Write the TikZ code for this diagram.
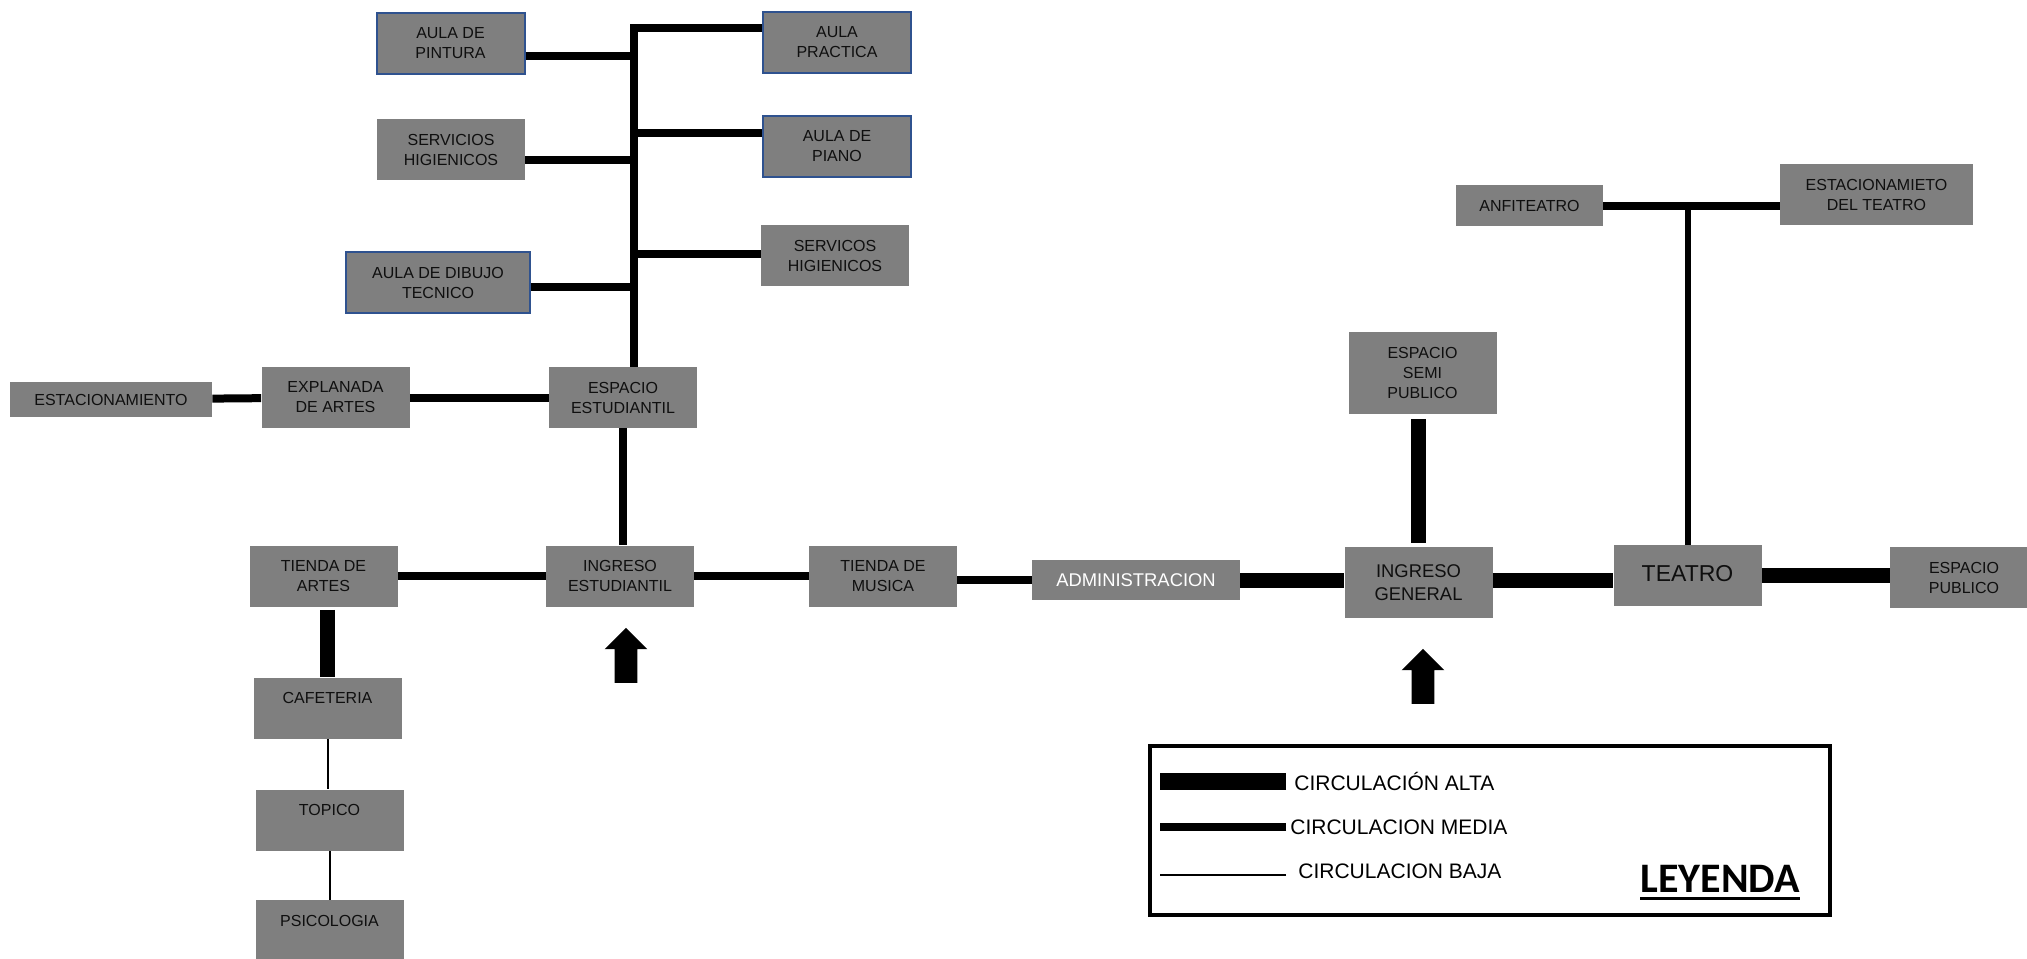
\documentclass[tikz,border=0pt]{standalone}
\usepackage{fontspec}
\setsansfont{Liberation Sans}
\newfontfamily\leyendafont{Carlito}
\usepackage{tikz}
\usetikzlibrary{shapes.arrows}
\definecolor{boxgrey}{RGB}{127,127,127}
\definecolor{aulablue}{RGB}{47,82,143}
\definecolor{boxtext}{RGB}{15,15,15}
\tikzset{
  base/.style={font=\sffamily\fontsize{8}{10}\selectfont, align=center, inner sep=2pt, text=boxtext},
  box/.style={base, rectangle, fill=boxgrey, minimum width=74pt, minimum height=30.5pt},
  aula/.style={box, draw=aulablue, line width=1pt},
  bigbox/.style={box, font=\sffamily\fontsize{9.2}{11.6}\selectfont},
  alta/.style={line width=7.5pt, draw=black},
  media/.style={line width=4pt, draw=black},
  baja/.style={line width=1pt, draw=black},
  entrada/.style={single arrow, shape border rotate=90, fill=black, inner sep=5.5pt, minimum height=27.5pt, minimum width=21pt, single arrow head extend=5pt},
  legtxt/.style={font=\sffamily\fontsize{10.5}{12}\selectfont, inner sep=0pt, text=black, anchor=west},
}
\begin{document}
\begin{tikzpicture}[x=0.5pt,y=-0.5pt]
  \useasboundingbox (0,0) rectangle (2027,958);
  % bloque de aulas
  \node[aula] (pintura) at (450.5,43)    {AULA DE\\PINTURA};
  \node[aula] (practica) at (837,42)     {AULA\\PRACTICA};
  \node[box] (servl) at (451,149.5)      {SERVICIOS\\HIGIENICOS};
  \node[aula] (piano) at (837,146.5)     {AULA DE\\PIANO};
  \node[box] (servr) at (835,255.5)      {SERVICOS\\HIGIENICOS};
  \node[aula,minimum width=92pt] (dibujo) at (438,282.5) {AULA DE DIBUJO\\TECNICO};
  % zona estudiantil
  \node[box,minimum width=101pt,minimum height=17.5pt] (estac) at (111,399.5) {ESTACIONAMIENTO};
  \node[box] (explanada) at (335.5,397.5) {EXPLANADA\\DE ARTES};
  \node[box] (espacio) at (623,397.5)    {ESPACIO\\ESTUDIANTIL};
  \node[box] (tiendaart) at (323.5,576)  {TIENDA DE\\ARTES};
  \node[box] (ingresoest) at (620,576)   {INGRESO\\ESTUDIANTIL};
  \node[box] (musica) at (883,576)       {TIENDA DE\\MUSICA};
  \node[box] (cafeteria) at (327.5,708)  {CAFETERIA\\\mbox{}};
  \node[box] (topico) at (329.5,820)     {TOPICO\\\mbox{}};
  \node[box] (psico) at (329.5,930.5)    {PSICOLOGIA\\\mbox{}};
  % zona publica
  \node[bigbox,minimum width=104pt,minimum height=20pt,text=white] (admin) at (1136,580) {ADMINISTRACION};
  \node[bigbox,minimum height=35.5pt] (ingresogen) at (1418.5,582.5) {INGRESO\\GENERAL};
  \node[box,font=\sffamily\fontsize{11.5}{13}\selectfont] (teatro) at (1687.5,575.5) {\raisebox{2pt}{TEATRO}};
  \node[box] (espublico) at (1964,577.5) {ESPACIO\\PUBLICO};
  \node[box,minimum height=41pt] (semipub) at (1422.5,373) {ESPACIO\\SEMI\\PUBLICO};
  \node[box,minimum width=73.5pt,minimum height=20.5pt] (anfi) at (1529.5,205.5) {ANFITEATRO};
  \node[box,minimum width=96.5pt] (estteatro) at (1876.5,194.5) {ESTACIONAMIETO\\DEL TEATRO};
  % ingresos
  \node[entrada] (flechaest) at (626,661) {};
  \node[entrada] (flechagen) at (1423,682) {};
  % conexiones
  \coordinate (trunk) at (634,28);
  \draw[media] (espacio.north -| trunk) -- (trunk) -- (trunk -| practica.west);
  \foreach \n/\dy in {pintura/-6.5,servl/-5,dibujo/-2}{\draw[media] ([yshift=\dy pt]\n.east) coordinate (b) -- (b -| trunk);}
  \foreach \n/\dy in {piano/7,servr/1}{\draw[media] ([yshift=\dy pt]\n.west) coordinate (b) -- (b -| trunk);}
  \foreach \a/\b in {estac/explanada,explanada/espacio,tiendaart/ingresoest,ingresoest/musica}{\draw[media] (\a) -- (\b);}
  \draw[media] (espacio.south) -- (espacio.south |- ingresoest.north);
  \draw[media] (musica.east |- admin) -- (admin.west);
  \draw[alta] (admin.east) -- (admin.east -| ingresogen.west);
  \draw[alta] (ingresogen.east |- admin) -- (teatro.west |- admin);
  \draw[alta] (teatro.east) -- (teatro.east -| espublico.west);
  \draw[alta,shorten <=2.5pt,shorten >=2pt] (semipub.south -| ingresogen) -- (ingresogen.north);
  \draw[alta,shorten <=1.5pt] (tiendaart.south -| cafeteria) -- (cafeteria.north);
  \draw[baja] (cafeteria.south) -- (cafeteria.south |- topico.north);
  \draw[baja] (topico.south) -- (topico.south |- psico.north);
  \draw[media] (anfi.east) -- (anfi.east -| estteatro.west);
  \draw[media,line width=3pt] (teatro.north) -- (teatro.north |- anfi.east);
  % leyenda
  \node[draw,line width=2pt,minimum width=340pt,minimum height=84.5pt] (leyenda) at (1490,830.5) {};
  \node[legtxt] (txtalta) at (1294,781)  {CIRCULACIÓN ALTA};
  \node[legtxt] (txtmedia) at (1290,827) {CIRCULACION MEDIA};
  \node[legtxt] (txtbaja) at (1298,871)  {CIRCULACION BAJA};
  \draw[alta,line width=8.5pt] (txtalta.west) ++(-8,0) -- ++(-126,0);
  \draw[media] (txtmedia.west) ++(-4,0) -- ++(-126,0);
  \draw[baja,line width=1.2pt] (txtbaja.west) ++(-12,4) -- ++(-126,0);
  \node[font=\leyendafont\bfseries\fontsize{21}{24}\selectfont,inner sep=0pt] (leytxt) at (1720,879) {LEYENDA};
  \draw[line width=1.5pt] ([yshift=-3pt]leytxt.base west) -- ([yshift=-3pt]leytxt.base east);
\end{tikzpicture}
\end{document}
